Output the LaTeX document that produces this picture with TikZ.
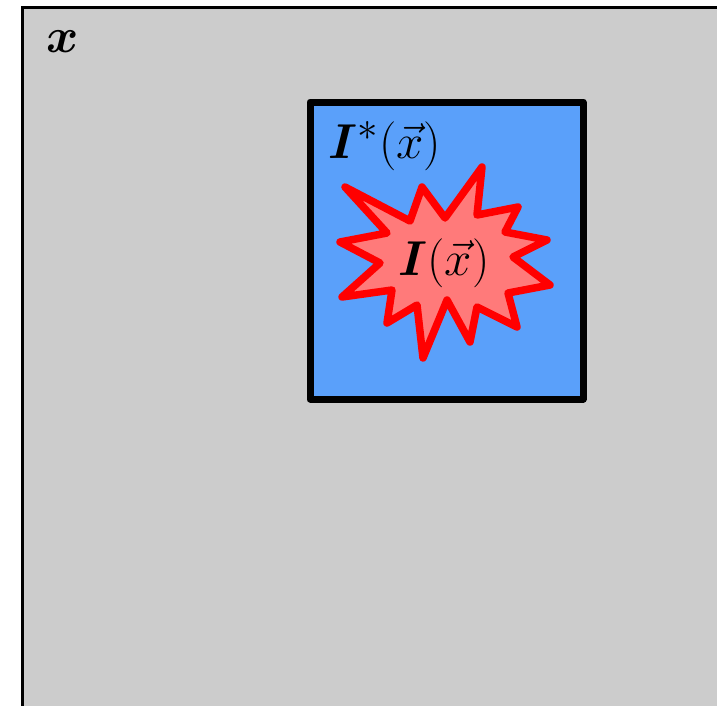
\documentclass[tikz,border=0pt]{standalone}
\usepackage{bm}
\definecolor{bggray}{HTML}{CCCCCC}
\definecolor{boxblue}{HTML}{5AA0FA}
\definecolor{burstfill}{HTML}{FF7A7A}
\newcommand{\biglbl}[1]{\scalebox{1.97}{\Huge #1}}
\begin{document}
\begin{tikzpicture}[x=1pt,y=-1pt,
  lbl/.style={inner sep=0pt}]
\useasboundingbox (0,0) rectangle (717,705);
% outer region
\draw[line width=3pt, fill=bggray] (22,7) rectangle (740,730);
\node[lbl] (xlab) at (63,42) {\biglbl{$\bm{x}$}};
% blue box
\draw[line width=7pt, fill=boxblue, line join=round] (310,102) rectangle (583,399);
\node[lbl] (istar) at (385,146) {\biglbl{$\bm{I}^{*}(\vec{x})$}};
% burst
\draw[line width=7.5pt, draw=red, fill=burstfill, line join=round]
  (345,187) -- (410,221) -- (422,187) -- (445,218) -- (482,167) -- (477,215)
  -- (518,207) -- (505,232) -- (547,240) -- (513,257) -- (550,285) -- (508,293)
  -- (517,327) -- (477,307) -- (470,342) -- (447,300) -- (423,358) -- (417,305)
  -- (387,323) -- (392,290) -- (342,297) -- (380,263) -- (340,242) -- (387,233)
  -- cycle;
\node[lbl] (ilab) at (444,263) {\biglbl{$\bm{I}(\vec{x})$}};
\end{tikzpicture}
\end{document}
